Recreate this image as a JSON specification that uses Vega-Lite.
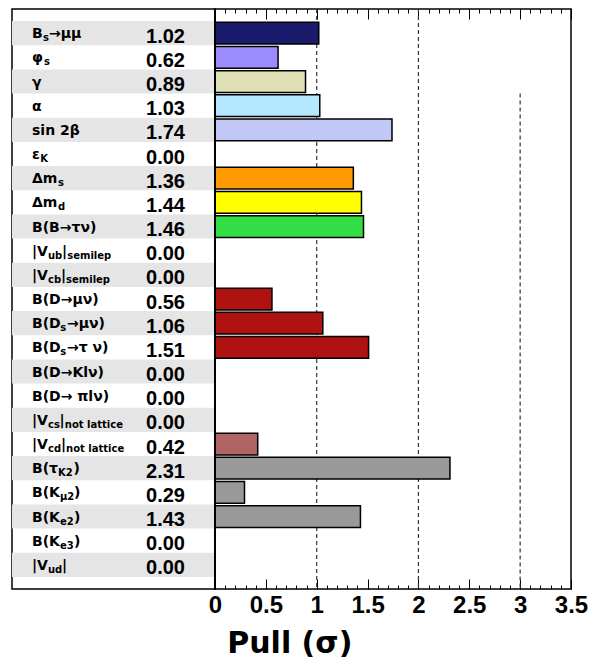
{
  "$schema": "https://vega.github.io/schema/vega-lite/v6.json",
  "padding": {"left": 11, "top": 7, "right": 5, "bottom": 0},
  "background": "white",
  "datasets": {
    "pulls": [
      {"name": "Bs→μμ", "main": "B\u2009\u2005→μμ", "sub": "\u200b\u2003\u200as", "pull": 1.02},
      {"name": "φs", "main": "φ", "sub": "\u200b\u2003\u2009s", "pull": 0.62},
      {"name": "γ", "main": "γ", "sub": "", "pull": 0.89},
      {"name": "α", "main": "α", "sub": "", "pull": 1.03},
      {"name": "sin 2β", "main": "sin 2β", "sub": "", "pull": 1.74},
      {"name": "εK", "main": "ε", "sub": "\u200b\u2002\u2004K", "pull": 0.0},
      {"name": "Δms", "main": "Δm", "sub": "\u200b\u2003\u2003\u2002\u200as", "pull": 1.36},
      {"name": "Δmd", "main": "Δm", "sub": "\u200b\u2003\u2003\u2002\u200ad", "pull": 1.44},
      {"name": "B(B→τν)", "main": "B(B→τν)", "sub": "", "pull": 1.46},
      {"name": "|Vub|semilep", "main": "|V\u2003|", "sub": "\u200b\u2003\u2002\u200aub\u2002semilep", "pull": 0.0},
      {"name": "|Vcb|semilep", "main": "|V\u2002\u2004\u200a|", "sub": "\u200b\u2003\u2002\u200acb\u2002semilep", "pull": 0.0},
      {"name": "B(D→μν)", "main": "B(D→μν)", "sub": "", "pull": 0.56},
      {"name": "B(Ds→μν)", "main": "B(D\u2009\u2005→μν)", "sub": "\u200b\u2003\u2003\u2002\u2004s", "pull": 1.06},
      {"name": "B(Ds→τν)", "main": "B(D\u2009\u2005→τ ν)", "sub": "\u200b\u2003\u2003\u2002\u2004s", "pull": 1.51},
      {"name": "B(D→Klν)", "main": "B(D→Klν)", "sub": "", "pull": 0.0},
      {"name": "B(D→πlν)", "main": "B(D→ πlν)", "sub": "", "pull": 0.0},
      {"name": "|Vcs|not lattice", "main": "|V\u2002\u2004|", "sub": "\u200b\u2003\u2002\u200acs\u2002not lattice", "pull": 0.0},
      {"name": "|Vcd|not lattice", "main": "|V\u2002\u2004\u200a|", "sub": "\u200b\u2003\u2002\u200acd\u2002not lattice", "pull": 0.42},
      {"name": "B(τK2)", "main": "B(τ\u2003\u200a)", "sub": "\u200b\u2003\u2003\u2002\u200aK2", "pull": 2.31},
      {"name": "B(Kμ2)", "main": "B(K\u2003)", "sub": "\u200b\u2003\u2003\u2002\u2009\u200aμ2", "pull": 0.29},
      {"name": "B(Ke2)", "main": "B(K\u2002\u2002)", "sub": "\u200b\u2003\u2003\u2002\u2009\u200ae2", "pull": 1.43},
      {"name": "B(Ke3)", "main": "B(K\u2002\u2002)", "sub": "\u200b\u2003\u2003\u2002\u2009\u200ae3", "pull": 0.0},
      {"name": "|Vud|", "main": "|V\u2003|", "sub": "\u200b\u2003\u2002\u200aud", "pull": 0.0}
    ]
  },
  "title": {"text": "Pull (σ)", "orient": "bottom", "anchor": "middle", "font": "DejaVu Sans", "fontSize": 30, "fontWeight": "bold", "color": "black", "offset": 11, "dx": -10},
  "bounds": "flush",
  "spacing": 0,
  "hconcat": [
    {
      "width": 203,
      "height": 580,
      "data": {"name": "pulls"},
      "encoding": {
        "y": {"field": "name", "type": "nominal", "sort": null, "axis": null,
          "scale": {"domain": ["Bs→μμ","φs","γ","α","sin 2β","εK","Δms","Δmd","B(B→τν)","|Vub|semilep","|Vcb|semilep","B(D→μν)","B(Ds→μν)","B(Ds→τν)","B(D→Klν)","B(D→πlν)","|Vcs|not lattice","|Vcd|not lattice","B(τK2)","B(Kμ2)","B(Ke2)","B(Ke3)","|Vud|"], "paddingInner": 0, "paddingOuter": 0.5}}
      },
      "layer": [
        {
          "transform": [
            {"window": [{"op": "row_number", "as": "rowNum"}]},
            {"filter": "datum.rowNum % 2 == 1"}
          ],
          "mark": {"type": "rect", "color": "#e5e5e5"},
          "encoding": {
            "x": {"datum": 0, "type": "quantitative", "axis": null, "scale": {"domain": [0, 1], "nice": false, "zero": false}},
            "x2": {"datum": 1}
          }
        },
        {
          "mark": {"type": "text", "align": "left", "baseline": "alphabetic", "dy": 5, "font": "DejaVu Sans", "fontSize": 14, "fontWeight": "bold", "color": "black"},
          "encoding": {
            "x": {"datum": 0.0985, "type": "quantitative", "axis": null},
            "text": {"field": "main"}
          }
        },
        {
          "mark": {"type": "text", "align": "left", "baseline": "alphabetic", "dy": 8, "font": "DejaVu Sans", "fontSize": 10, "fontWeight": "bold", "color": "black"},
          "encoding": {
            "x": {"datum": 0.0985, "type": "quantitative", "axis": null},
            "text": {"field": "sub"}
          }
        },
        {
          "mark": {"type": "text", "align": "right", "baseline": "alphabetic", "dy": 9.5, "font": "Liberation Sans", "fontSize": 20, "fontWeight": "bold", "color": "black"},
          "encoding": {
            "x": {"datum": 0.852, "type": "quantitative", "axis": null},
            "text": {"field": "pull", "type": "quantitative", "format": ".2f"}
          }
        }
      ]
    },
    {
      "width": 356,
      "height": 580,
      "resolve": {"axis": {"x": "independent"}},
      "layer": [
        {
          "data": {"values": [{"sigma": 1}, {"sigma": 2}]},
          "mark": {"type": "rule", "strokeDash": [4, 3], "color": "#333333", "strokeWidth": 1.2},
          "encoding": {
            "x": {"field": "sigma", "type": "quantitative",
              "scale": {"domain": [0, 3.5], "nice": false, "zero": true},
              "axis": {"orient": "top", "values": [0, 0.5, 1, 1.5, 2, 2.5, 3, 3.5], "tickSize": -10, "tickColor": "black", "tickWidth": 1, "labels": false, "domain": false, "grid": false, "title": null}}
          }
        },
        {
          "data": {"values": [{"sigma": 3}]},
          "mark": {"type": "rule", "strokeDash": [4, 3], "color": "#333333", "strokeWidth": 1.2},
          "encoding": {
            "x": {"field": "sigma", "type": "quantitative",
              "axis": {"orient": "top", "values": [0,0.1,0.2,0.3,0.4,0.5,0.6,0.7,0.8,0.9,1,1.1,1.2,1.3,1.4,1.5,1.6,1.7,1.8,1.9,2,2.1,2.2,2.3,2.4,2.5,2.6,2.7,2.8,2.9,3,3.1,3.2,3.3,3.4,3.5], "tickSize": -4, "tickColor": "black", "tickWidth": 1, "labels": false, "domain": false, "grid": false, "title": null}},
            "y": {"datum": "α", "type": "nominal", "bandPosition": 0, "axis": null},
            "y2": {"value": "height"}
          }
        },
        {
          "data": {"name": "pulls"},
          "mark": {"type": "bar", "height": {"band": 0.9}, "stroke": "black", "strokeWidth": 1.5},
          "encoding": {
            "x": {"field": "pull", "type": "quantitative",
              "axis": {"orient": "bottom", "values": [0, 0.5, 1, 1.5, 2, 2.5, 3, 3.5], "format": "~g", "tickSize": -10, "tickColor": "black", "tickWidth": 1, "labelFont": "Liberation Sans", "labelFontSize": 24, "labelFontWeight": "bold", "labelColor": "black", "labelPadding": 14, "labelFlush": false, "labelOverlap": false, "labelBound": false, "domain": false, "grid": false, "title": null}},
            "y": {"field": "name", "type": "nominal", "sort": null, "axis": null,
              "scale": {"domain": ["Bs→μμ","φs","γ","α","sin 2β","εK","Δms","Δmd","B(B→τν)","|Vub|semilep","|Vcb|semilep","B(D→μν)","B(Ds→μν)","B(Ds→τν)","B(D→Klν)","B(D→πlν)","|Vcs|not lattice","|Vcd|not lattice","B(τK2)","B(Kμ2)","B(Ke2)","B(Ke3)","|Vud|"], "paddingInner": 0, "paddingOuter": 0.5}},
            "color": {"field": "name", "type": "nominal", "legend": null,
              "scale": {"domain": ["Bs→μμ","φs","γ","α","sin 2β","εK","Δms","Δmd","B(B→τν)","|Vub|semilep","|Vcb|semilep","B(D→μν)","B(Ds→μν)","B(Ds→τν)","B(D→Klν)","B(D→πlν)","|Vcs|not lattice","|Vcd|not lattice","B(τK2)","B(Kμ2)","B(Ke2)","B(Ke3)","|Vud|"],
                "range": ["#1b1b6e","#9b8bff","#e0e0b6","#b4e8ff","#c2c8f6","#ffffff","#ff9a00","#ffff00","#33dd44","#ffffff","#ffffff","#b01212","#b01212","#b01212","#ffffff","#ffffff","#ffffff","#b06464","#999999","#999999","#999999","#ffffff","#ffffff"]}}
          }
        },
        {
          "data": {"values": [{"sigma": 0}]},
          "mark": {"type": "rule", "color": "black", "strokeWidth": 2},
          "encoding": {
            "x": {"field": "sigma", "type": "quantitative",
              "axis": {"orient": "bottom", "values": [0,0.1,0.2,0.3,0.4,0.5,0.6,0.7,0.8,0.9,1,1.1,1.2,1.3,1.4,1.5,1.6,1.7,1.8,1.9,2,2.1,2.2,2.3,2.4,2.5,2.6,2.7,2.8,2.9,3,3.1,3.2,3.3,3.4,3.5], "tickSize": -4, "tickColor": "black", "tickWidth": 1, "labels": false, "domain": false, "grid": false, "title": null}}
          }
        }
      ]
    }
  ],
  "config": {
    "view": {"stroke": "black", "strokeWidth": 1.5},
    "font": "Liberation Sans"
  }
}
